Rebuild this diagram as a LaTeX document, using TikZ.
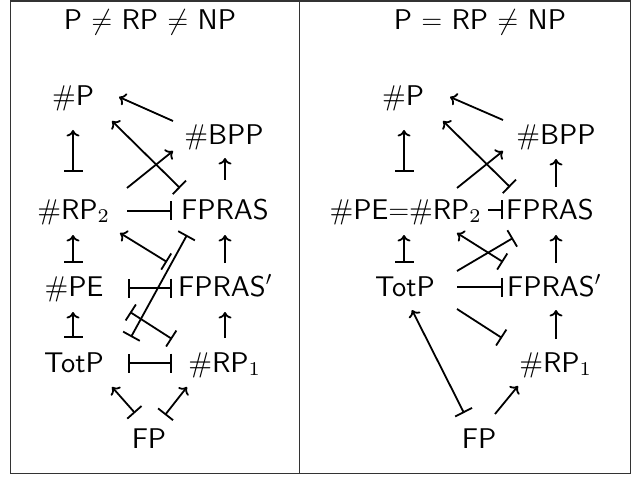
\RequirePackage{fix-cm}
\documentclass[tikz,border=0pt]{standalone}
\usetikzlibrary{arrows.meta}
\DeclareFontFamily{OT1}{cmssten}{}
\DeclareFontShape{OT1}{cmssten}{m}{n}{<->cmss10}{}
\font\subsev=cmr7 at 19.5bp
\newcommand\sbs[1]{\raisebox{-3bp}{\subsev #1}}
\begin{document}
\begin{tikzpicture}[x=1bp,y=-1bp,
  lbl/.style={anchor=base,inner sep=0pt,font=\fontencoding{OT1}\fontfamily{cmssten}\fontsize{28.5bp}{34bp}\selectfont},
  ln/.style={line width=1.8bp},
  arr/.style={ln,-{To[length=6.5bp,width=13bp]}},
  maparr/.style={ln,{Bar[width=19bp]}-{To[length=6.5bp,width=13bp]}},
  barend/.style={ln,-{Bar[width=19bp]}},
  bothbar/.style={ln,{Bar[width=19bp]}-{Bar[width=19bp]}},
  frame/.style={line width=1.2bp,black!80}]
\useasboundingbox (0,0) rectangle (634,477);
\draw[frame] (10.5,1) rectangle (630.5,473.5);
\draw[frame] (299.5,1) -- (299.5,473.5);
% left panel
\node[lbl] (tl) at (150,29.5) {P $\neq$ RP $\neq$ NP};
\node[lbl] (p) at (73,106) {\#P};
\node[lbl] (bpp) at (224,145) {\#BPP};
\node[lbl] (rp2) at (73,220) {\#RP\sbs{2}};
\node[lbl] (fpras) at (225,220) {FPRAS};
\node[lbl] (pe) at (74,296) {\#PE};
\node[lbl] (fprasp) at (225,296) {FPRAS$'$};
\node[lbl] (totp) at (74,372) {TotP};
\node[lbl] (rp1) at (224,372) {\#RP\sbs{1}};
\node[lbl] (fp) at (149,448) {FP};
\draw[arr] ([shift={(-51,-24)}]bpp.base) -- ([shift={(46,-9)}]p.base);
\draw[maparr] ([shift={(-45,-32)}]fpras.base) -- ([shift={(39,15)}]p.base);
\draw[arr] ([shift={(54,-32)}]rp2.base) -- ([shift={(-51,6)}]bpp.base);
\draw[arr] ([shift={(0,-40)}]fpras.base) -- ([shift={(1,13)}]bpp.base);
\draw[maparr] ([shift={(0,-48)}]rp2.base) -- ([shift={(0,24)}]p.base);
\draw[barend] ([shift={(54,-9)}]rp2.base) -- ([shift={(-53,-9)}]fpras.base);
\draw[maparr] ([shift={(-1,-33)}]pe.base) -- ([shift={(0,15)}]rp2.base);
\draw[maparr] ([shift={(-58,-34)}]fprasp.base) -- ([shift={(47,13)}]rp2.base);
\draw[arr] ([shift={(0,-33)}]fprasp.base) -- ([shift={(0,15)}]fpras.base);
\draw[bothbar] ([shift={(54,-8)}]pe.base) -- ([shift={(-53,-8)}]fprasp.base);
\draw[bothbar] ([shift={(-38,15)}]fpras.base) -- ([shift={(57,-35)}]totp.base);
\draw[bothbar] ([shift={(56,16)}]pe.base) -- ([shift={(-52,-33)}]rp1.base);
\draw[maparr] ([shift={(-1,-34)}]totp.base) -- ([shift={(-1,16)}]pe.base);
\draw[arr] ([shift={(1,-34)}]rp1.base) -- ([shift={(0,16)}]fprasp.base);
\draw[bothbar] ([shift={(54,-9)}]totp.base) -- ([shift={(-52,-9)}]rp1.base);
\draw[maparr] ([shift={(-14,-35)}]fp.base) -- ([shift={(38,15)}]totp.base);
\draw[maparr] ([shift={(16,-33)}]fp.base) -- ([shift={(-37,15)}]rp1.base);
% right panel
\node[lbl] (tr) at (480,29.5) {P $=$ RP $\neq$ NP};
\node[lbl] (p2) at (403,106) {\#P};
\node[lbl] (bpp2) at (556,145) {\#BPP};
\node[lbl] (perp) at (405,220) {\#PE$=$\#RP\sbs{2}};
\node[lbl] (fpras2) at (550,220) {FPRAS};
\node[lbl] (totp2) at (405,296) {TotP};
\node[lbl] (fprasp2) at (554,296) {FPRAS$'$};
\node[lbl] (rp12) at (555,372) {\#RP\sbs{1}};
\node[lbl] (fp2) at (479,448) {FP};
\draw[arr] ([shift={(-53,-25)}]bpp2.base) -- ([shift={(47,-9)}]p2.base);
\draw[maparr] ([shift={(-40,-33)}]fpras2.base) -- ([shift={(40,15)}]p2.base);
\draw[arr] ([shift={(52,-32)}]perp.base) -- ([shift={(-53,6)}]bpp2.base);
\draw[arr] ([shift={(6,-33)}]fpras2.base) -- ([shift={(0,14)}]bpp2.base);
\draw[maparr] ([shift={(-1,-48)}]perp.base) -- ([shift={(1,24)}]p2.base);
\draw[barend] ([shift={(83,-10)}]perp.base) -- ([shift={(-47,-10)}]fpras2.base);
\draw[maparr] ([shift={(-1,-33)}]totp2.base) -- ([shift={(-1,15)}]perp.base);
\draw[maparr] ([shift={(-51,-34)}]fprasp2.base) -- ([shift={(52,13)}]perp.base);
\draw[barend] ([shift={(52,-25)}]totp2.base) -- ([shift={(-37,18)}]fpras2.base);
\draw[arr] ([shift={(2,-33)}]fprasp2.base) -- ([shift={(6,15)}]fpras2.base);
\draw[barend] ([shift={(52,-9)}]totp2.base) -- ([shift={(-51,-9)}]fprasp2.base);
\draw[barend] ([shift={(52,13)}]totp2.base) -- ([shift={(-53,-34)}]rp12.base);
\draw[arr] ([shift={(1,-33)}]rp12.base) -- ([shift={(2,14)}]fprasp2.base);
\draw[maparr] ([shift={(-15,-35)}]fp2.base) -- ([shift={(7,14)}]totp2.base);
\draw[arr] ([shift={(16,-34)}]fp2.base) -- ([shift={(-37,14)}]rp12.base);
\end{tikzpicture}
\end{document}
